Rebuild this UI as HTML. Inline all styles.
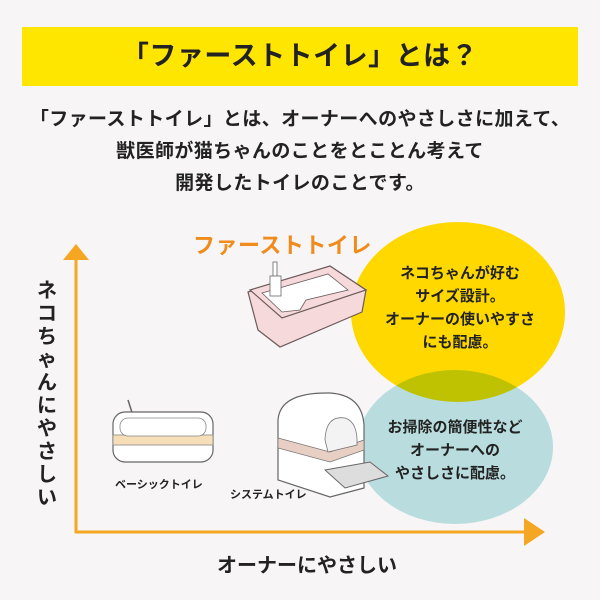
<!DOCTYPE html>
<html><head><meta charset="utf-8"><style>
body{margin:0;width:600px;height:600px;background:#f7f5f6;position:relative;overflow:hidden;font-family:"Liberation Sans","Noto Sans CJK JP",sans-serif;color:#222}
.abs{position:absolute}
.banner{left:22px;top:27px;width:556px;height:59px;background:#ffe600;text-align:center;line-height:59px;font-size:27px;font-weight:bold;letter-spacing:0.5px}
.para{left:0;width:600px;top:104px;text-align:center;font-size:19px;font-weight:bold;line-height:32px;letter-spacing:0.4px}
.c{text-align:center;font-weight:bold;font-size:15px;line-height:23px}
</style></head><body>
<div class="abs banner">「ファーストトイレ」とは？</div>
<div class="abs para">「ファーストトイレ」とは、オーナーへのやさしさに加えて、<br>獣医師が猫ちゃんのことをとことん考えて<br>開発したトイレのことです。</div>
<svg class="abs" style="left:0;top:0" width="600" height="600">
<ellipse cx="458" cy="312" rx="107" ry="90" fill="#ffd800"/>
<ellipse cx="455" cy="447" rx="98" ry="77" fill="#bfe5e6" style="mix-blend-mode:multiply"/>
<line x1="76" y1="258" x2="76" y2="533" stroke="#f5a623" stroke-width="3"/>
<polygon points="63,260 76,244 89,260" fill="#f5a623"/>
<line x1="75" y1="532" x2="528" y2="532" stroke="#f5a623" stroke-width="3"/>
<polygon points="524,518 545,532 524,546" fill="#f5a623"/>
<!-- first toilet -->
<path d="M248 292 L330 266 L366 290 L362 312 L280 347 L258 330 Z" fill="#f6d9db" stroke="#6b5a5a" stroke-width="1.2"/>
<path d="M250 290 L330 266 L366 290 L282 318 Z" fill="#f6d9db" stroke="#6b5a5a" stroke-width="1.2"/>
<path d="M262 293 L328 274 L348 290 L306 300 L300 310 L282 312 Z" fill="#fff" stroke="#6b5a5a" stroke-width="0.8"/>
<rect x="273" y="262" width="4" height="16" fill="#fff" stroke="#666" stroke-width="0.8"/>
<rect x="270" y="276" width="11" height="20" fill="#fff" stroke="#666" stroke-width="0.8"/>
<!-- basic toilet -->
<line x1="128" y1="400" x2="136" y2="425" stroke="#666" stroke-width="1.5"/>
<rect x="113" y="412" width="100" height="50" rx="12" fill="#fff" stroke="#666" stroke-width="1.2"/>
<rect x="113" y="435" width="100" height="10" fill="#f6dfb8" stroke="#888" stroke-width="0.8"/>
<rect x="120" y="418" width="86" height="18" rx="8" fill="#fff" stroke="#888" stroke-width="0.8"/>
<!-- system toilet -->
<path d="M278 480 L278 420 Q280 392 330 393 Q362 395 364 425 L364 488 L330 497 Z" fill="#fff" stroke="#666" stroke-width="1.2"/>
<path d="M278 438 L330 452 L364 440 L364 450 L330 462 L278 448 Z" fill="#e8cfc4" stroke="#777" stroke-width="0.8"/>
<path d="M325 440 Q326 415 345 418 Q358 422 357 445 L328 452 Z" fill="#f3f3f3" stroke="#777" stroke-width="0.8"/>
<path d="M325 470 L370 462 L388 476 L345 488 Z" fill="#ddd" stroke="#666" stroke-width="1"/>
</svg>
<div class="abs" style="left:193px;top:228px;font-size:22px;font-weight:bold;color:#f08c1e;letter-spacing:0.5px">ファーストトイレ</div>
<div class="abs c" style="left:360px;top:262px;width:200px">ネコちゃんが好む<br>サイズ設計。<br>オーナーの使いやすさ<br>にも配慮。</div>
<div class="abs c" style="left:360px;top:416px;width:190px">お掃除の簡便性など<br>オーナーへの<br>やさしさに配慮。</div>
<div class="abs" style="left:115px;top:476px;font-size:11px;font-weight:bold">ベーシックトイレ</div>
<div class="abs" style="left:230px;top:486px;font-size:11px;font-weight:bold">システムトイレ</div>
<div class="abs" style="left:36px;top:280px;width:22px;font-size:20px;line-height:23px;font-weight:bold;text-align:center">ネ<br>コ<br>ち<br>ゃ<br>ん<br>に<br>や<br>さ<br>し<br>い</div>
<div class="abs" style="left:0;width:614px;top:549px;text-align:center;font-size:20px;font-weight:bold">オーナーにやさしい</div>
</body></html>
